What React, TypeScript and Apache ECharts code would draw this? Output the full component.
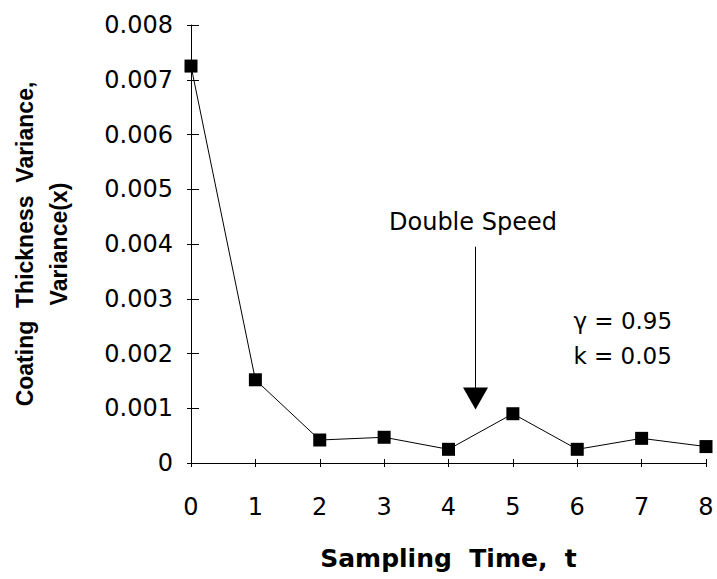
import React, { useEffect, useRef } from "react";
import * as echarts from "echarts";

const times = [0, 1, 2, 3, 4, 5, 6, 7, 8];
const variance = [0.00725, 0.00152, 0.00042, 0.00047, 0.00025, 0.0009, 0.00025, 0.00045, 0.0003];
const xTicks = { min: 0, max: 8, interval: 1 };
const yTicks = { min: 0, max: 0.008, interval: 0.001 };
const arrowFrom = [4.42, 0.00395];
const arrowTo = [4.42, 0.00118];
const doubleSpeedAt = [4.38, 0.0044];
const gammaAt = [5.94, 0.00259];
const kAt = [5.94, 0.00195];

const FONT = "DejaVu Sans, Liberation Sans, Arial, sans-serif";
const TITLE_FONT = "Liberation Sans, Arial, Helvetica, sans-serif";

export default function App() {
  const ref = useRef<HTMLDivElement>(null);
  useEffect(() => {
    if (!ref.current) return;
    const chart = echarts.init(ref.current, null, { renderer: "svg" });
    const yLabel = (v: number) => (v === 0 ? "0" : v.toFixed(3));
    const axisCommon = {
      type: "value",
      splitLine: { show: false },
    };
    chart.setOption({
      animation: false,
      backgroundColor: "#fff",
      grid: { left: 191, right: 11, top: 25, bottom: 116, containLabel: false, outerBoundsMode: "none" },
      xAxis: [
        {
          ...axisCommon,
          ...xTicks,
          position: "bottom",
          axisLine: { show: true, lineStyle: { color: "#000", width: 1 } },
          axisTick: { show: true, inside: false, length: 4, lineStyle: { color: "#000" } },
          axisLabel: { color: "#000", fontSize: 24, fontFamily: FONT, margin: 32 },
          name: "Sampling  Time,  t",
          nameLocation: "middle",
          nameGap: 83,
          nameTextStyle: { color: "#000", fontSize: 25, fontWeight: "bold", fontFamily: FONT },
        },
        {
          ...axisCommon,
          ...xTicks,
          position: "bottom",
          axisLine: { show: false },
          axisTick: { show: true, inside: true, length: 4, lineStyle: { color: "#000" } },
          axisLabel: { show: false },
        },
      ],
      yAxis: [
        {
          ...axisCommon,
          ...yTicks,
          position: "left",
          axisLine: { show: true, lineStyle: { color: "#000", width: 1 } },
          axisTick: { show: true, inside: false, length: 4, lineStyle: { color: "#000" } },
          axisLabel: { color: "#000", fontSize: 24, fontFamily: FONT, margin: 18, formatter: yLabel },
          name: "Coating  Thickness  Variance,\nVariance(x)",
          nameLocation: "middle",
          nameGap: 115,
          nameRotate: 90,
          nameTextStyle: { color: "#000", fontSize: 23, fontWeight: "bold", fontFamily: TITLE_FONT, lineHeight: 34 },
        },
        {
          ...axisCommon,
          ...yTicks,
          position: "left",
          axisLine: { show: false },
          axisTick: { show: true, inside: true, length: 8, lineStyle: { color: "#000" } },
          axisLabel: { show: false },
        },
      ],
      series: [
        {
          type: "line",
          data: times.map((t, i) => [t, variance[i]]),
          symbol: "rect",
          symbolSize: 13,
          itemStyle: { color: "#000" },
          lineStyle: { color: "#000", width: 1 },
          z: 5,
        },
        {
          type: "line",
          data: [],
          markLine: {
            silent: true,
            symbol: ["none", "triangle"],
            symbolSize: [25, 22],
            lineStyle: { color: "#000", width: 1, type: "solid" },
            label: { show: false },
            data: [[{ coord: arrowFrom }, { coord: arrowTo }]],
          },
          markPoint: {
            silent: true,
            symbol: "circle",
            symbolSize: 0,
            label: { show: true, color: "#000", fontFamily: FONT, fontSize: 24 },
            data: [
              { coord: doubleSpeedAt, label: { formatter: "Double Speed", position: "inside" } },
              { coord: gammaAt, label: { formatter: "γ = 0.95", position: "right", distance: 0, fontSize: 23 } },
              { coord: kAt, label: { formatter: "k = 0.05", position: "right", distance: 0, fontSize: 23 } },
            ],
          },
        },
      ],
    });
    return () => chart.dispose();
  }, []);
  return <div ref={ref} style={{ width: 717, height: 579, position: "absolute", left: 0, top: 0 }} />;
}
